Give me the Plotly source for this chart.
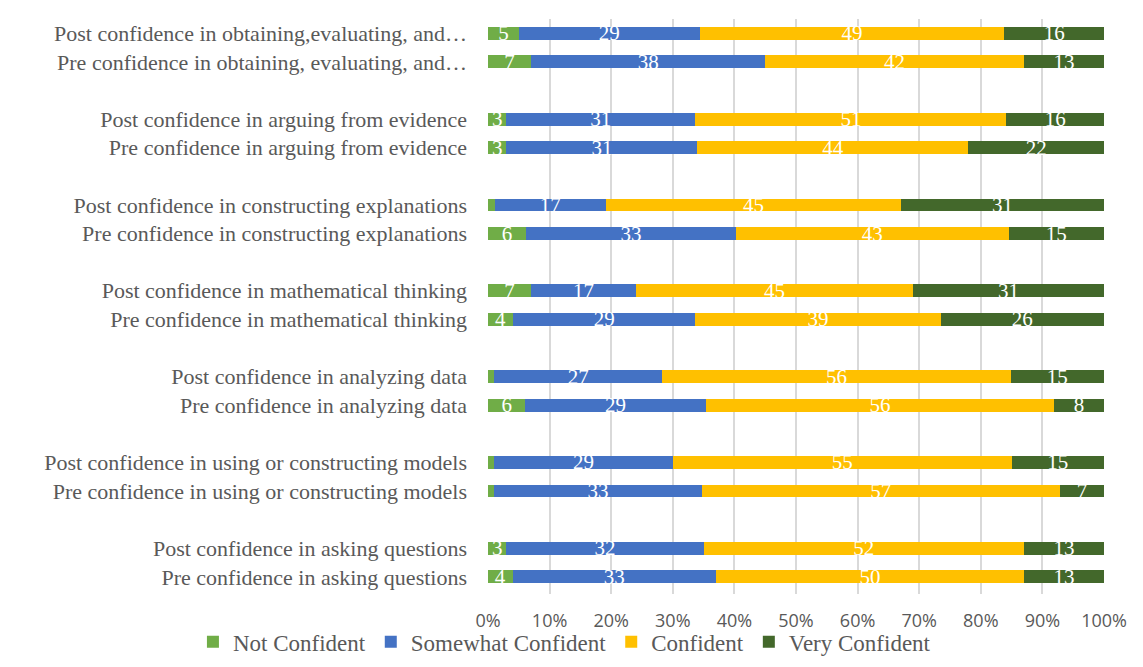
import plotly.graph_objects as go

categories = [
    "Pre confidence in asking questions",
    "Post confidence in asking questions",
    "Pre confidence in using or constructing models",
    "Post confidence in using or constructing models",
    "Pre confidence in analyzing data",
    "Post confidence in analyzing data",
    "Pre confidence in mathematical thinking",
    "Post confidence in mathematical thinking",
    "Pre confidence in constructing explanations",
    "Post confidence in constructing explanations",
    "Pre confidence in arguing from evidence",
    "Post confidence in arguing from evidence",
    "Pre confidence in obtaining, evaluating, and\u2026",
    "Post confidence in obtaining,evaluating, and\u2026",
]
not_confident = [4, 3, 1, 1, 6, 1, 4, 7, 6, 1, 3, 3, 7, 5]
somewhat_confident = [33, 32, 33, 29, 29, 27, 29, 17, 33, 17, 31, 31, 38, 29]
confident = [50, 52, 57, 55, 56, 56, 39, 45, 43, 45, 44, 51, 42, 49]
very_confident = [13, 13, 7, 15, 8, 15, 26, 31, 15, 31, 22, 16, 13, 16]
x_ticks = [0, 10, 20, 30, 40, 50, 60, 70, 80, 90, 100]
x_tick_labels = ["0%", "10%", "20%", "30%", "40%", "50%", "60%", "70%", "80%", "90%", "100%"]

series = [
    ("Not Confident", not_confident, "#70AD47"),
    ("Somewhat Confident", somewhat_confident, "#4472C4"),
    ("Confident", confident, "#FFC000"),
    ("Very Confident", very_confident, "#43682B"),
]

# positions: pairs grouped with a gap between groups
ypos = []
for i in range(len(categories)):
    ypos.append((i // 2) * 3 + (i % 2))

SERIF = "Liberation Serif, Times New Roman, serif"
SANS = "Open Sans, Noto Sans, sans-serif"

fig = go.Figure()
for name, vals, color in series:
    fig.add_trace(go.Bar(
        y=ypos, x=vals, name=name, orientation="h",
        marker=dict(color=color, line=dict(width=0)),
        width=0.45,
        text=[str(v) if v >= 2 else "" for v in vals],
        textposition="inside", insidetextanchor="middle",
        textangle=0, constraintext="none",
        textfont=dict(family=SERIF, size=21, color="white"),
        hoverinfo="x+y+name",
    ))

fig.update_layout(
    barmode="stack", barnorm="percent",
    width=1143, height=667,
    margin=dict(l=480, r=47, t=11, b=81),
    paper_bgcolor="white", plot_bgcolor="white",
    font=dict(family=SERIF, size=22, color="#595959"),
    xaxis=dict(range=[0, 100], tickvals=x_ticks, ticktext=x_tick_labels,
               showgrid=True, gridcolor="#D9D9D9", gridwidth=2,
               zeroline=False, showline=False, ticks="", automargin=False,
               ticklabelstandoff=14,
               tickfont=dict(family=SANS, size=18, color="#595959")),
    yaxis=dict(range=[-0.6, 19.5], tickvals=ypos, ticktext=categories,
               showgrid=False, zeroline=False, showline=False, ticks="",
               automargin=False, ticklabelstandoff=20,
               tickfont=dict(family=SERIF, size=22, color="#595959")),
    legend=dict(orientation="h", x=-0.479, xanchor="left",
                y=-0.083, yanchor="middle", traceorder="normal",
                bgcolor="rgba(0,0,0,0)",
                font=dict(family=SERIF, size=23, color="#595959")),
    showlegend=True,
)

fig.write_html("out.html")
